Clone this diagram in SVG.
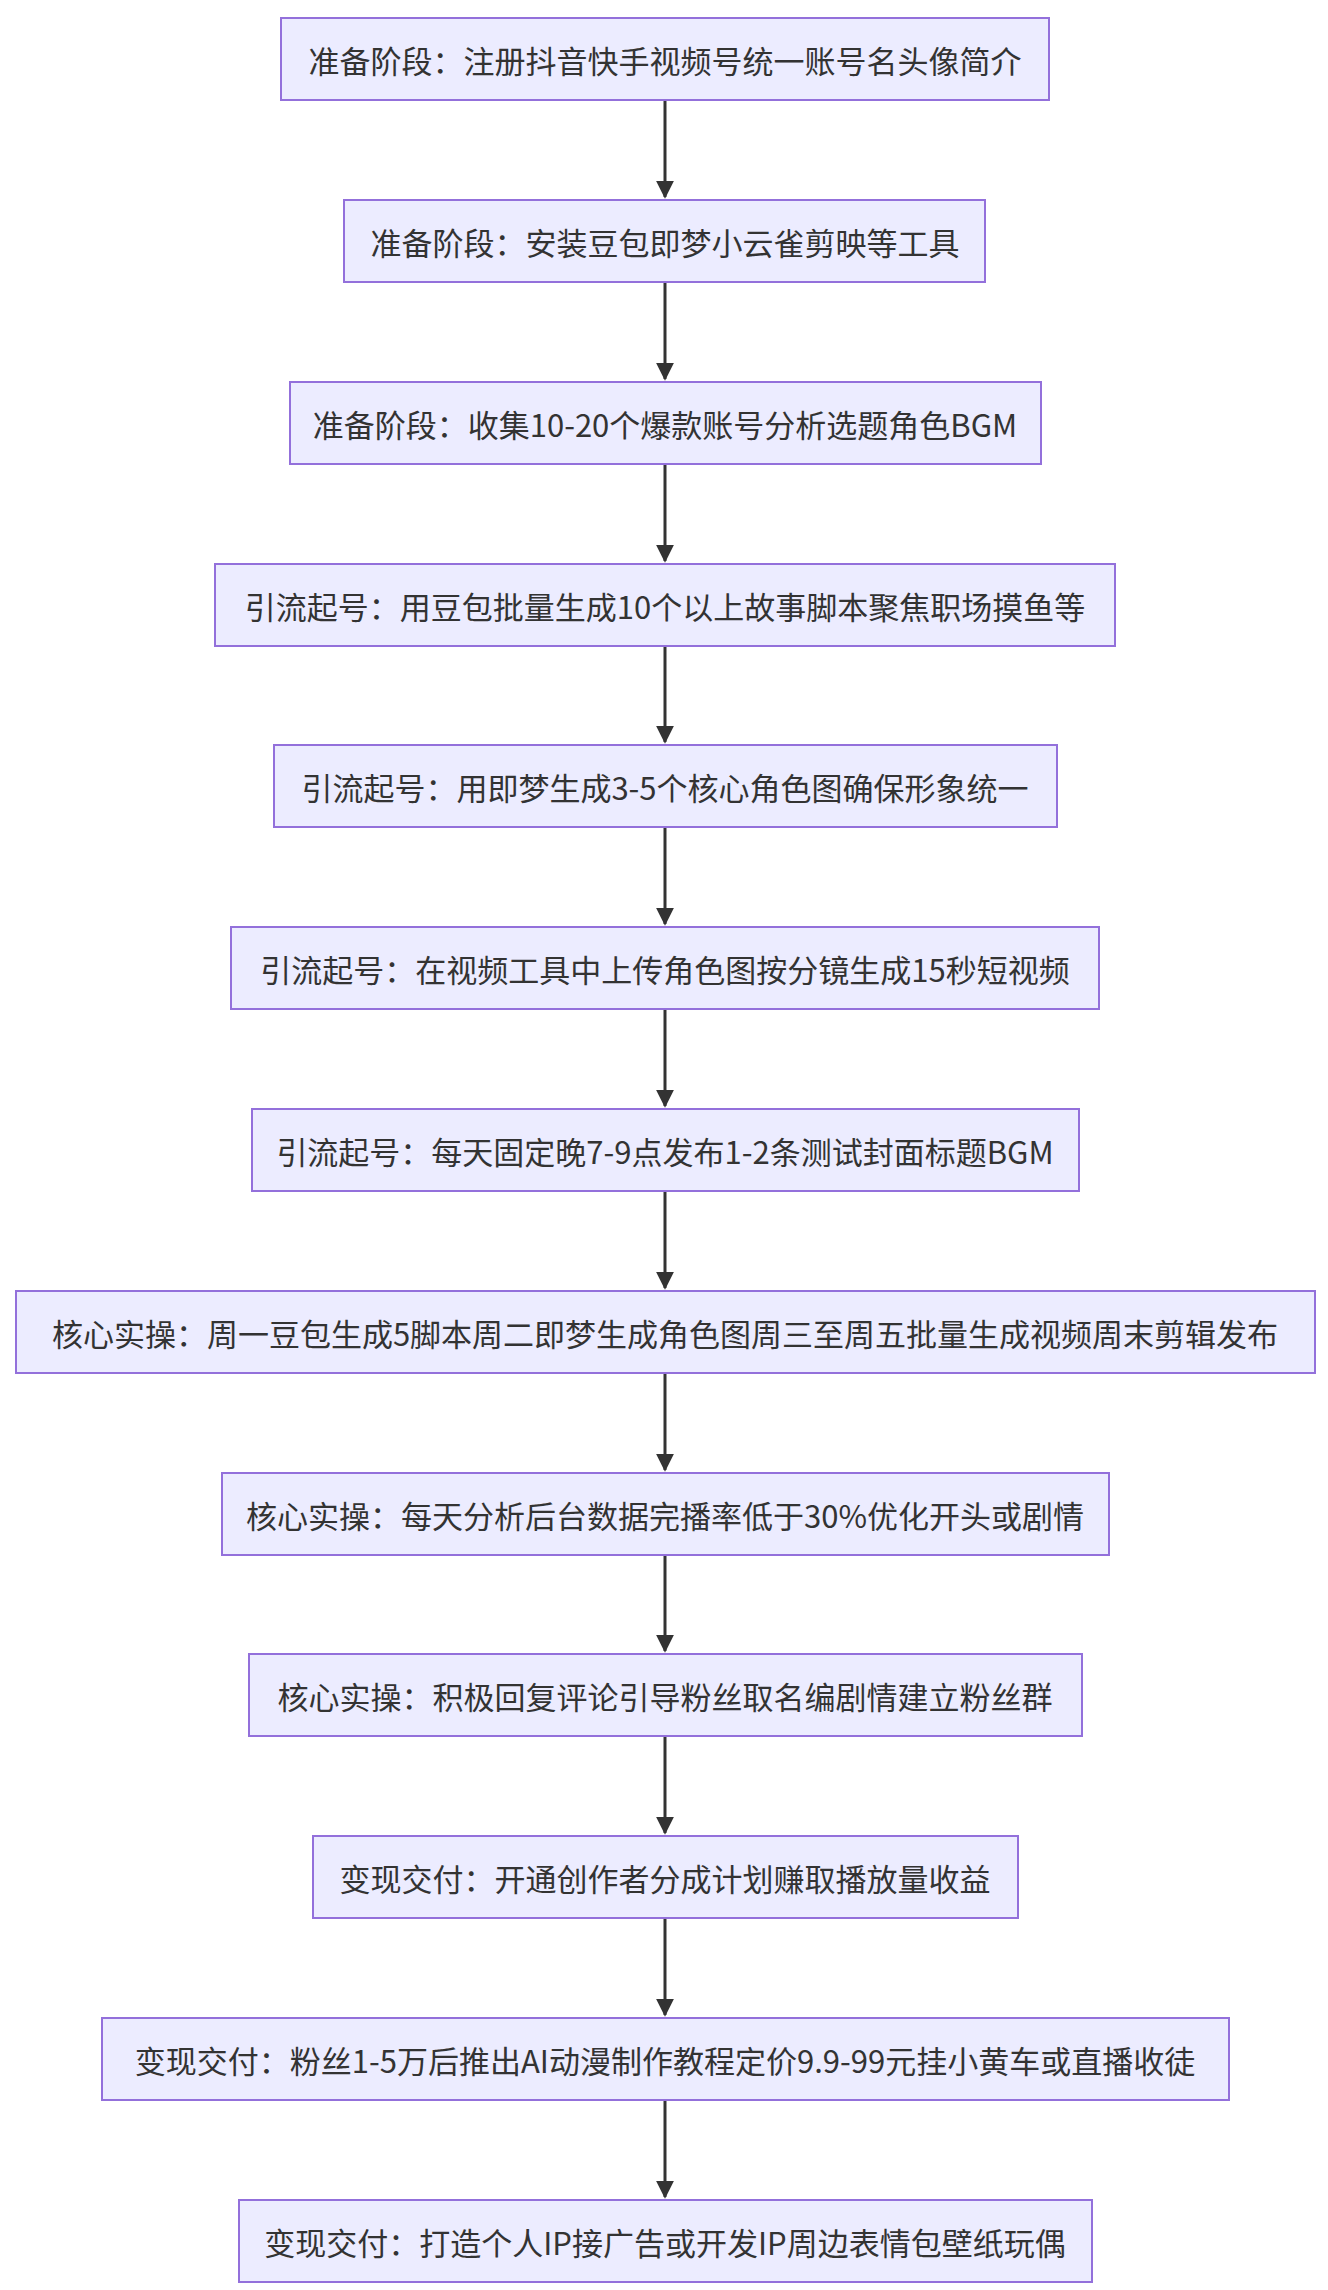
<svg xmlns="http://www.w3.org/2000/svg" width="1328" height="2290" viewBox="0 0 1328 2290">
<style>
.n rect{fill:#ECECFF;stroke:#9370DB;stroke-width:2}
.n text{font-family:"Noto Sans CJK SC","Noto Sans",sans-serif;font-size:31px;fill:#333;text-anchor:middle;dominant-baseline:central}
.e line{stroke:#333;stroke-width:3;marker-end:url(#ah)}
</style>
<defs><marker id="ah" viewBox="0 0 10 10" refX="9" refY="5" markerWidth="6" markerHeight="6" orient="auto" markerUnits="strokeWidth"><path d="M0,0L10,5L0,10z" fill="#333"/></marker></defs>
<rect width="1328" height="2290" fill="#fff"/>
<g class="e">
<line x1="665" y1="100" x2="665" y2="197"/>
<line x1="665" y1="282" x2="665" y2="379"/>
<line x1="665" y1="464" x2="665" y2="561"/>
<line x1="665" y1="646" x2="665" y2="742"/>
<line x1="665" y1="827" x2="665" y2="924"/>
<line x1="665" y1="1009" x2="665" y2="1106"/>
<line x1="665" y1="1191" x2="665" y2="1288"/>
<line x1="665" y1="1373" x2="665" y2="1470"/>
<line x1="665" y1="1555" x2="665" y2="1651"/>
<line x1="665" y1="1736" x2="665" y2="1833"/>
<line x1="665" y1="1918" x2="665" y2="2015"/>
<line x1="665" y1="2100" x2="665" y2="2197"/>
</g>
<g id="n1" class="n"><rect x="281" y="18" width="768" height="82"/><text x="665" y="59">准备阶段：注册抖音快手视频号统一账号名头像简介</text></g>
<g id="n2" class="n"><rect x="344" y="200" width="641" height="82"/><text x="665" y="241">准备阶段：安装豆包即梦小云雀剪映等工具</text></g>
<g id="n3" class="n"><rect x="290" y="382" width="751" height="82"/><text x="665" y="423">准备阶段：收集10-20个爆款账号分析选题角色BGM</text></g>
<g id="n4" class="n"><rect x="215" y="564" width="900" height="82"/><text x="665" y="605">引流起号：用豆包批量生成10个以上故事脚本聚焦职场摸鱼等</text></g>
<g id="n5" class="n"><rect x="274" y="745" width="783" height="82"/><text x="665" y="786">引流起号：用即梦生成3-5个核心角色图确保形象统一</text></g>
<g id="n6" class="n"><rect x="231" y="927" width="868" height="82"/><text x="665" y="968">引流起号：在视频工具中上传角色图按分镜生成15秒短视频</text></g>
<g id="n7" class="n"><rect x="252" y="1109" width="827" height="82"/><text x="665" y="1150">引流起号：每天固定晚7-9点发布1-2条测试封面标题BGM</text></g>
<g id="n8" class="n"><rect x="16" y="1291" width="1299" height="82"/><text x="665" y="1332">核心实操：周一豆包生成5脚本周二即梦生成角色图周三至周五批量生成视频周末剪辑发布</text></g>
<g id="n9" class="n"><rect x="222" y="1473" width="887" height="82"/><text x="665" y="1514">核心实操：每天分析后台数据完播率低于30%优化开头或剧情</text></g>
<g id="n10" class="n"><rect x="249" y="1654" width="833" height="82"/><text x="665" y="1695">核心实操：积极回复评论引导粉丝取名编剧情建立粉丝群</text></g>
<g id="n11" class="n"><rect x="313" y="1836" width="705" height="82"/><text x="665" y="1877">变现交付：开通创作者分成计划赚取播放量收益</text></g>
<g id="n12" class="n"><rect x="102" y="2018" width="1127" height="82"/><text x="665" y="2059">变现交付：粉丝1-5万后推出AI动漫制作教程定价9.9-99元挂小黄车或直播收徒</text></g>
<g id="n13" class="n"><rect x="239" y="2200" width="853" height="82"/><text x="665" y="2241">变现交付：打造个人IP接广告或开发IP周边表情包壁纸玩偶</text></g>
</svg>
